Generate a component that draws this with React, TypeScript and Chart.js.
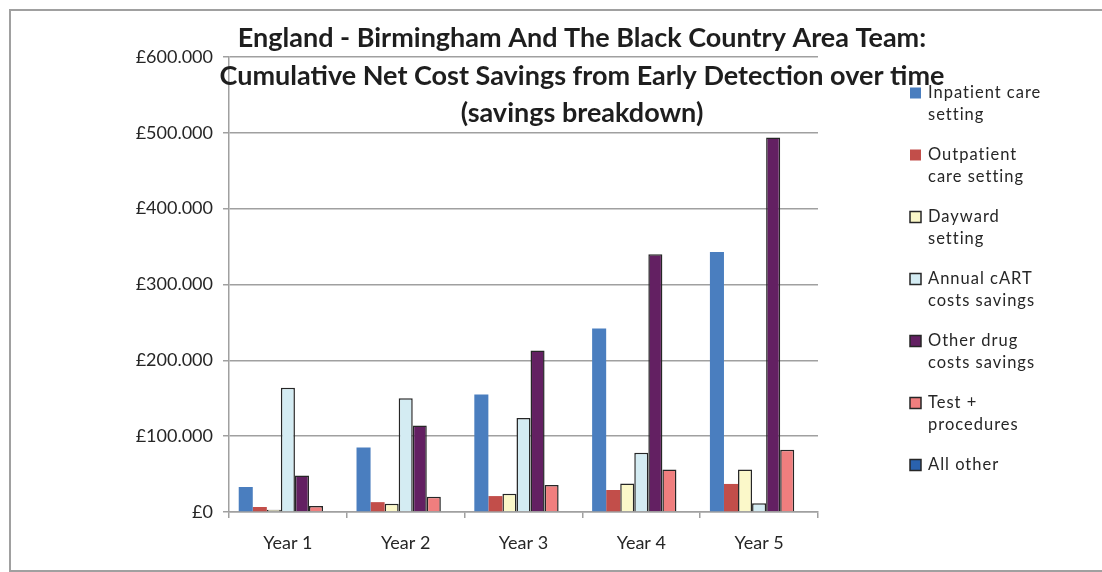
import React, { useEffect, useRef } from "react";
import { Chart, registerables } from "chart.js";

Chart.register(...registerables);

const categories = ["Year 1", "Year 2", "Year 3", "Year 4", "Year 5"];

const inpatientCare = [33000, 85000, 155000, 242000, 343000];
const outpatientCare = [6600, 13000, 21000, 29000, 37000];
const daywardSetting = [3000, 11000, 24000, 37500, 56000];
const annualCartSavings = [164000, 150000, 124000, 78000, 11500];
const otherDrugSavings = [48000, 114000, 213000, 340000, 494000];
const testProcedures = [8000, 20000, 35700, 56000, 82000];
const allOther = [0, 0, 0, 0, 0];

const seriesLabels = [
  ["Inpatient care", "setting"],
  ["Outpatient", "care setting"],
  ["Dayward", "setting"],
  ["Annual cART", "costs savings"],
  ["Other drug", "costs savings"],
  ["Test +", "procedures"],
  ["All other"],
];

const titleLines = [
  "England - Birmingham And The Black Country Area Team:",
  "Cumulative Net Cost Savings from Early Detection over time",
  "(savings breakdown)",
];

const yMax = 600000;
const yStep = 100000;

const FONT = "Lato, 'Open Sans', sans-serif";
const EDGE = "#262626";

const colors = ["#4a7ebf", "#c24e4a", "#fbf8c9", "#d4ecf3", "#632062", "#f07e7e", "#2a62ae"];
const bordered = [false, false, true, true, true, true, true];

function fmt(v: number): string {
  if (v === 0) return "£0";
  const s = Math.round(v).toString();
  return "£" + s.replace(/\B(?=(\d{3})+(?!\d))/g, ".");
}

const overlayPlugin = {
  id: "overlay",
  afterDraw(chart: any) {
    const ctx = chart.ctx as CanvasRenderingContext2D;
    ctx.save();
    // title
    ctx.fillStyle = "#1e1e1e";
    ctx.font = `bold 27px ${FONT}`;
    ctx.textAlign = "center";
    ctx.textBaseline = "alphabetic";
    const baselines = [47, 85, 122];
    titleLines.forEach((t, i) => ctx.fillText(t, 582, baselines[i]));
    // legend
    ctx.font = `16.5px ${FONT}`;
    (ctx as any).letterSpacing = "1px";
    ctx.textAlign = "left";
    ctx.textBaseline = "middle";
    seriesLabels.forEach((lines, i) => {
      const cy = 93 + i * 62;
      ctx.fillStyle = colors[i];
      ctx.fillRect(910, cy - 5.5, 11, 11);
      if (bordered[i]) {
        ctx.strokeStyle = EDGE;
        ctx.lineWidth = 1.5;
        ctx.strokeRect(910, cy - 5.5, 11, 11);
      }
      ctx.fillStyle = "#262626";
      lines.forEach((l, j) => ctx.fillText(l, 928, cy + j * 22));
    });
    ctx.restore();
  },
};

export default function App() {
  const ref = useRef<HTMLCanvasElement | null>(null);
  useEffect(() => {
    if (!ref.current) return;
    const series = [
      inpatientCare,
      outpatientCare,
      daywardSetting,
      annualCartSavings,
      otherDrugSavings,
      testProcedures,
      allOther,
    ];
    const chart = new Chart(ref.current, {
      type: "bar",
      data: {
        labels: categories,
        datasets: series.map((d, i) => ({
          label: seriesLabels[i].join(" "),
          data: d,
          backgroundColor: colors[i],
          borderColor: EDGE,
          borderWidth: bordered[i] ? 1.5 : 0,
          categoryPercentage: 0.835,
          barPercentage: 1,
        })),
      },
      options: {
        responsive: false,
        animation: false,
        devicePixelRatio: 1,
        layout: { padding: { left: 20, top: 57, right: 284, bottom: 10 } },
        plugins: {
          legend: { display: false },
          title: { display: false },
          tooltip: { enabled: false },
        },
        scales: {
          x: {
            grid: {
              display: true,
              drawOnChartArea: false,
              drawTicks: true,
              tickLength: 6,
              color: "#a0a0a0",
              lineWidth: 1.5,
            },
            border: { color: "#a0a0a0", width: 1.5 },
            ticks: {
              color: "#262626",
              font: { family: FONT, size: 18 },
              padding: 14,
            },
            afterFit: (s: any) => {
              s.height = 50;
            },
          },
          y: {
            min: 0,
            max: yMax,
            ticks: {
              stepSize: yStep,
              color: "#262626",
              font: { family: FONT, size: 18 },
              padding: 10,
              callback: (v: any) => fmt(Number(v)),
            },
            grid: {
              color: "#a0a0a0",
              lineWidth: 1.5,
              tickLength: 6,
            },
            border: { color: "#a0a0a0", width: 1.5 },
            afterFit: (s: any) => {
              s.width = 209;
            },
          },
        },
      },
      plugins: [overlayPlugin],
    });
    return () => chart.destroy();
  }, []);

  return (
    <div style={{ position: "fixed", left: 0, top: 0, width: 1102, height: 572, background: "#fff" }}>
      <div
        style={{
          position: "absolute",
          left: 9,
          top: 9,
          width: 1093,
          height: 563,
          boxSizing: "border-box",
          borderTop: "2px solid #a0a0a0",
          borderLeft: "2px solid #a0a0a0",
          borderBottom: "2px solid #a0a0a0",
        }}
      />
      <canvas ref={ref} width={1102} height={572} style={{ position: "absolute", left: 0, top: 0 }} />
    </div>
  );
}
